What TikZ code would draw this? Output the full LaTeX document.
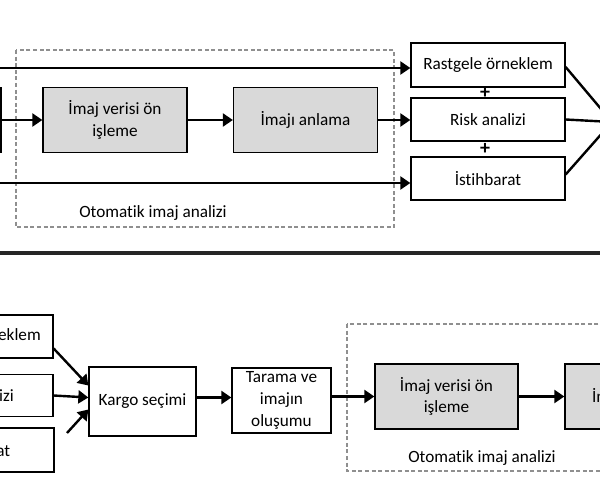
\documentclass[tikz,border=0pt]{standalone}
\usepackage{fontspec}
\setmainfont{Carlito}[Ligatures=NoCommon]
\usetikzlibrary{arrows.meta,calc}
\definecolor{boxgray}{HTML}{D9D9D9}
\definecolor{dashgray}{HTML}{8F8F8F}

\begin{document}
\begin{tikzpicture}[x=0.5pt,y=-0.5pt,
	box/.style={draw,line width=0.65pt,inner sep=0pt,align=center,
		font=\fontsize{8.6}{10.8}\selectfont},
	grbox/.style={box,fill=boxgray},
	arr/.style={line width=1.2pt,-{Triangle[length=5pt,width=6.5pt]}},
	autobox/.style={draw=dashgray,line width=0.8pt,dash pattern=on 2pt off 1.3pt},
	lbl/.style={font=\fontsize{8.6}{10.8}\selectfont},
	plus/.style={font=\fontsize{10}{10}\selectfont\bfseries,inner sep=0pt}]
		\useasboundingbox (0,0) rectangle (600,502);
		\clip (0,0) rectangle (600,502);
		% upper chain
		\node [box,minimum width=50.5pt,minimum height=32.5pt] (scan1) at (-49.5,120) {};
		\node [grbox,minimum width=72pt,minimum height=32.5pt] (pre1) at (115,120) {İmaj verisi ön\\işleme};
		\node [grbox,minimum width=72pt,minimum height=32.5pt] (und1) at (305.5,120) {İmajı anlama};
		\node [box,minimum width=77pt,minimum height=22pt] (rs1) at (488,65) {Rastgele örneklem};
		\node [box,minimum width=77pt,minimum height=21.5pt] (ra1) at (488,119.5) {Risk analizi};
		\node [box,minimum width=77pt,minimum height=21.5pt] (ist1) at (488,178.5) {İstihbarat};
		\node [plus] (plus1) at (485,92.5) {+};
		\node [plus] (plus2) at (485,148.5) {+};
		\coordinate (in1) at (-10,68);
		\coordinate (in2) at (-10,183);
		\coordinate (sink1) at (612,122);
		\draw [autobox] (16,50) rectangle (394,227);
		\node [lbl] (auto1) at (153,213) {Otomatik imaj analizi};
		\draw [arr] (in1) -- (in1 -| rs1.west);
		\draw [arr] (in2) -- (in2 -| ist1.west);
		\draw [arr] (scan1.east) -- (pre1.west);
		\draw [arr] (pre1.east) -- (und1.west);
		\draw [arr] (und1.east) -- (und1.east -| ra1.west);
		\draw [arr] ([yshift=-1pt]rs1.east) -- (sink1);
		\draw [arr] (ra1.east) -- (sink1);
		\draw [arr] ([yshift=2pt]ist1.east) -- (sink1);
		% separator
		\draw [line width=1.6pt,black!85] (0,253) -- (600,253);
		% lower chain
		\node [box,minimum width=77pt,minimum height=21.5pt] (rs2) at (-24,336.5) {Rastgele örneklem};
		\node [box,minimum width=77pt,minimum height=21pt] (ra2) at (-24,395.5) {Risk analizi};
		\node [box,minimum width=77pt,minimum height=22pt] (ist2) at (-23,450) {İstihbarat};
		\node [box,minimum width=53.5pt,minimum height=34.5pt] (kargo) at (142.5,401.5) {Kargo seçimi};
		\node [box,minimum width=49.5pt,minimum height=32.5pt] (tar) at (281.5,400.5) {Tarama ve\\imajın\\oluşumu};
		\node [grbox,minimum width=71.5pt,minimum height=32.5pt] (pre2) at (446.5,396.5) {İmaj verisi ön\\işleme};
		\node [grbox,minimum width=72pt,minimum height=32.5pt] (und2) at (637,396.5) {İmajı anlama};
		\draw [autobox] (347,324) rectangle (725,471);
		\node [lbl] (auto2) at (482,458) {Otomatik imaj analizi};
		\coordinate (from3) at (67,433);
		\draw [arr] ($(rs2.east)+(0,12)$) -- ($(kargo.west)+(0,-16)$);
		\draw [arr] (ra2.east) -- ($(kargo.west)+(0,-4)$);
		\draw [arr] (from3) -- ($(kargo.west)+(0,8)$);
		\draw [arr] ($(kargo.east)+(0,-4)$) -- ($(tar.west)+(0,-3)$);
		\draw [arr] (pre2.west -| tar.east) -- (pre2.west);
		\draw [arr] (pre2.east) -- (und2.west);
\end{tikzpicture}
\end{document}
